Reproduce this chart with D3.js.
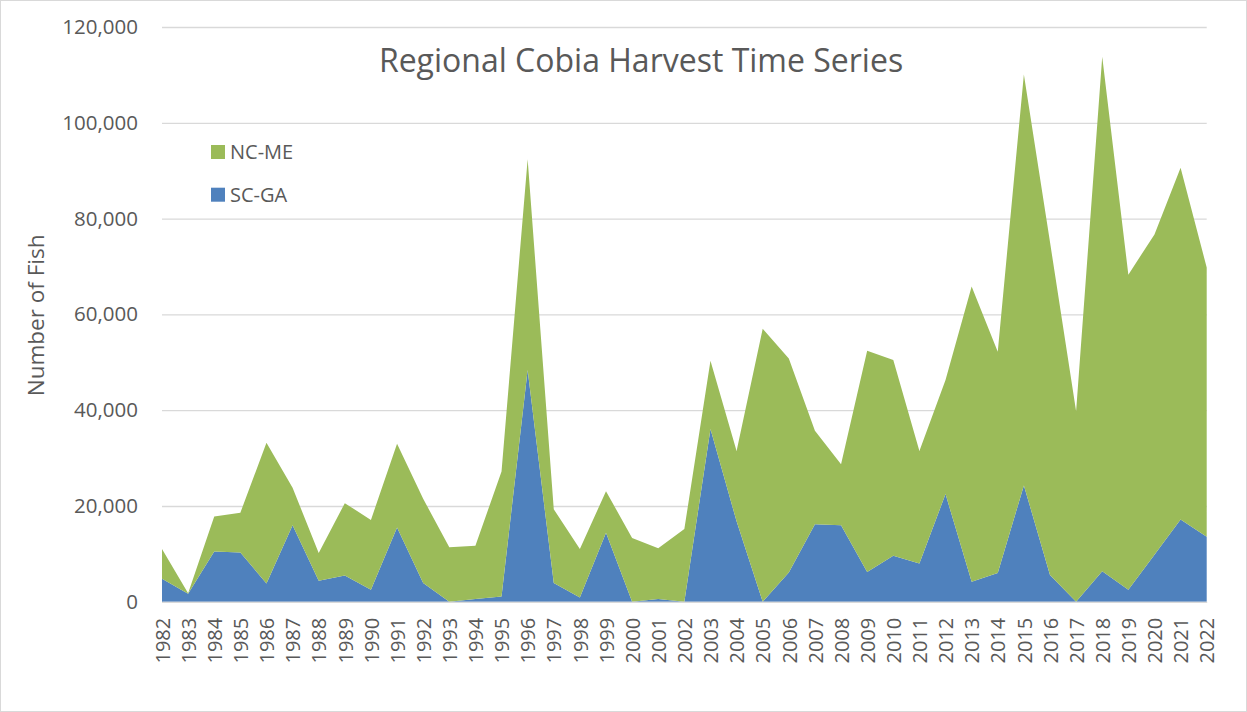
<!DOCTYPE html>
<html>
<head>
<meta charset="utf-8">
<script src="https://cdn.jsdelivr.net/npm/d3@7"></script>
<style>
  html, body { margin: 0; padding: 0; background: #ffffff; }
  svg { display: block; }
  text { font-family: "Open Sans", "Liberation Sans", sans-serif; fill: #595959; }
</style>
</head>
<body>
<svg id="chart" width="1247" height="712"></svg>
<script>
// Harvest (number of fish) by year and region
const years = [1982, 1983, 1984, 1985, 1986, 1987, 1988, 1989, 1990, 1991,
               1992, 1993, 1994, 1995, 1996, 1997, 1998, 1999, 2000, 2001,
               2002, 2003, 2004, 2005, 2006, 2007, 2008, 2009, 2010, 2011,
               2012, 2013, 2014, 2015, 2016, 2017, 2018, 2019, 2020, 2021, 2022];

const scga = [4800, 1700, 10500, 10300, 3800, 16000, 4400, 5500, 2500, 15500,
              3900, 0, 600, 1100, 48400, 3900, 900, 14400, 0, 600,
              0, 36100, 16800, 0, 6100, 16200, 16000, 6200, 9600, 8000,
              22500, 4200, 6000, 24300, 5600, 0, 6400, 2500, 9800, 17200, 13600];

const ncme = [6200, 100, 7300, 8300, 29400, 7800, 5800, 15100, 14600, 17500,
              17600, 11400, 11100, 26100, 44000, 15400, 10100, 8700, 13300, 10600,
              15200, 14200, 14700, 57000, 44700, 19500, 12700, 46200, 40900, 23500,
              23800, 61600, 46200, 85800, 69500, 39800, 107400, 65800, 66900, 73400, 56200];

const seriesNames = ["SC-GA", "NC-ME"];
const seriesColors = { "SC-GA": "#4f81bd", "NC-ME": "#9bbb59" };
const legendOrder = ["NC-ME", "SC-GA"];
const yTicks = [0, 20000, 40000, 60000, 80000, 100000, 120000];

const chartTitle = "Regional Cobia Harvest Time Series";
const yTitle = "Number of Fish";

const W = 1247, H = 712;
const plot = { left: 162, right: 1206.7, top: 27, bottom: 601.8 };

const svg = d3.select("#chart");

svg.append("rect")
  .attr("x", 0.5).attr("y", 0.5)
  .attr("width", W - 1).attr("height", H - 1)
  .attr("fill", "#ffffff")
  .attr("stroke", "#d9d9d9");

const x = d3.scalePoint().domain(years).range([plot.left, plot.right]);
const y = d3.scaleLinear().domain([0, 120000]).range([plot.bottom, plot.top]);

// gridlines + value labels
const yAxis = svg.append("g")
  .attr("transform", `translate(${plot.left},0)`)
  .call(d3.axisLeft(y)
    .tickValues(yTicks)
    .tickFormat(d3.format(","))
    .tickSize(-(plot.right - plot.left))
    .tickPadding(24));
yAxis.select(".domain").remove();
yAxis.selectAll(".tick line").attr("stroke", "#d9d9d9").attr("stroke-width", 1.3);
yAxis.selectAll(".tick text")
  .attr("font-size", 20.5)
  .attr("font-family", "Open Sans")
  .attr("fill", "#595959");

// stacked areas
const rows = years.map((yr, i) => ({ year: yr, "SC-GA": scga[i], "NC-ME": ncme[i] }));
const stacked = d3.stack().keys(seriesNames)(rows);

const area = d3.area()
  .x(d => x(d.data.year))
  .y0(d => y(d[0]))
  .y1(d => y(d[1]));

svg.append("g")
  .selectAll("path")
  .data(stacked)
  .join("path")
  .attr("d", area)
  .attr("fill", d => seriesColors[d.key]);

// category axis with vertical year labels
const xAxis = svg.append("g")
  .attr("transform", `translate(0,${plot.bottom})`)
  .call(d3.axisBottom(x).tickSize(0).tickSizeOuter(0));
xAxis.select(".domain").attr("stroke", "#d9d9d9").attr("stroke-width", 1.3);
xAxis.selectAll(".tick text")
  .attr("font-size", 20)
  .attr("font-family", "Open Sans")
  .attr("fill", "#595959")
  .attr("text-anchor", "end")
  .attr("transform", "rotate(-90)")
  .attr("x", -16)
  .attr("y", 0)
  .attr("dy", "0.36em");

// axis title
svg.append("text")
  .attr("transform", `translate(44,${(plot.top + plot.bottom) / 2 + 1}) rotate(-90)`)
  .attr("text-anchor", "middle")
  .attr("font-size", 22.5)
  .text(yTitle);

// chart title
svg.append("text")
  .attr("x", 641)
  .attr("y", 72)
  .attr("text-anchor", "middle")
  .attr("font-size", 32)
  .text(chartTitle);

// legend
const legend = svg.append("g")
  .selectAll("g")
  .data(legendOrder)
  .join("g")
  .attr("transform", (d, i) => `translate(211,${145 + i * 42.7})`);
legend.append("rect")
  .attr("width", 14).attr("height", 14)
  .attr("fill", d => seriesColors[d]);
legend.append("text")
  .attr("x", 19)
  .attr("y", 13.8)
  .attr("font-size", 20)
  .text(d => d);
</script>
</body>
</html>
